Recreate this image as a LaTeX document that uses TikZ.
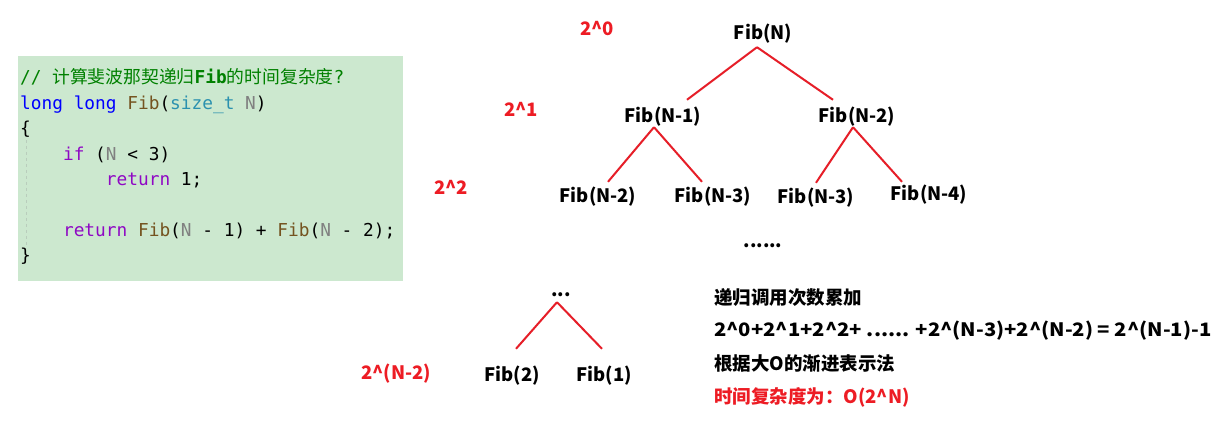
\documentclass[tikz,border=0pt]{standalone}
\usepackage{fontspec}
\usepackage{tikz}
\newfontfamily\yahei{Noto Sans CJK SC}
\newfontfamily\cjk{Noto Sans CJK SC}
\newfontfamily\codefont{DejaVu Sans Mono}
\definecolor{codebg}{RGB}{204,232,207}
\definecolor{cmt}{RGB}{0,128,0}
\definecolor{kw}{RGB}{0,0,255}
\definecolor{fn}{RGB}{116,83,31}
\definecolor{ty}{RGB}{43,145,175}
\definecolor{par}{RGB}{128,128,128}
\definecolor{ctl}{RGB}{143,8,196}
\definecolor{redline}{RGB}{230,30,40}
\definecolor{redtxt}{RGB}{237,28,36}
\definecolor{guide}{RGB}{185,205,188}

\begin{document}
\begin{tikzpicture}[x=1pt, y=-1pt,
  fib/.style = {font=\yahei\bfseries\fontsize{18.5}{18.5}\selectfont, inner sep=0pt, anchor=base, text height=13pt, text depth=4pt},
  lvl/.style = {font=\yahei\bfseries\fontsize{18.5}{18.5}\selectfont, inner sep=0pt, anchor=base, text=redtxt},
  note/.style = {font=\yahei\bfseries\fontsize{18.5}{18.5}\selectfont, inner sep=0pt, anchor=base west},
  code/.style = {font=\codefont\fontsize{17.8}{17.8}\selectfont, inner sep=0pt, anchor=base west},
  edge/.style = {draw=redline, line width=2pt}]
\useasboundingbox[fill=white] (0,0) rectangle (1221,427);

% code box
\fill[codebg] (18,56) rectangle (403,281);
\draw[guide, dashed, line width=0.8pt] (26,140) -- (26,246);
\node[code] (c1) at (20,84) {\color{cmt}// {\cjk 计算斐波那契递归}{\bfseries Fib}{\cjk 的时间复杂度}?};
\node[code] (c2) at (20,110) {{\color{kw}long long} {\color{fn}Fib}({\color{ty}size\_t} {\color{par}N})};
\node[code] (c3) at (20,135) {\{};
\node[code] (c4) at (20,161) {\ \ \ \ {\color{ctl}if} ({\color{par}N} < 3)};
\node[code] (c5) at (20,186) {\ \ \ \ \ \ \ \ {\color{ctl}return} 1;};
\node[code] (c6) at (20,237) {\ \ \ \ {\color{ctl}return} {\color{fn}Fib}({\color{par}N} - 1) + {\color{fn}Fib}({\color{par}N} - 2);};
\node[code] (c7) at (20,262) {\}};

% recursion tree
\node[fib] (root) at (763,40) {Fib(N)};
\node[fib] (n1) at (663,123) {Fib(N-1)};
\node[fib] (n2) at (857,123) {Fib(N-2)};
\node[fib] (n3) at (598,203) {Fib(N-2)};
\node[fib] (n4) at (713,203) {Fib(N-3)};
\node[fib] (n5) at (816,204) {Fib(N-3)};
\node[fib] (n6) at (929,201) {Fib(N-4)};
\node[fib] (more) at (763,248) {......};
\node[fib] (dots) at (561,297) {...};
\node[fib] (f2) at (512,382) {Fib(2)};
\node[fib] (f1) at (604,382) {Fib(1)};

\draw[edge] ([xshift=-6pt,yshift=-3pt]root.south) -- ([xshift=24pt,yshift=10pt]n1.north);
\draw[edge] ([xshift=-6pt,yshift=-3pt]root.south) -- ([xshift=-24pt,yshift=10pt]n2.north);
\draw[edge] ([xshift=-9pt]n1.south) -- ([xshift=10pt,yshift=8pt]n3.north);
\draw[edge] ([xshift=-9pt]n1.south) -- ([xshift=-11pt,yshift=8pt]n4.north);
\draw[edge] ([xshift=-4pt]n2.south) -- ([yshift=8pt]n5.north);
\draw[edge] ([xshift=-4pt]n2.south) -- ([xshift=-27pt,yshift=6pt]n6.north);
\draw[edge] ([xshift=-4pt,yshift=-1pt]dots.south) -- ([xshift=4pt,yshift=20pt]f2.north);
\draw[edge] ([xshift=-4pt,yshift=-1pt]dots.south) -- ([xshift=-2pt,yshift=20pt]f1.north);

% level counts
\node[lvl] (l0) at (597,36) {2\^{}0};
\node[lvl] (l1) at (521,117) {2\^{}1};
\node[lvl] (l2) at (451,195) {2\^{}2};
\node[lvl] (ln) at (396,380) {2\^{}(N-2)};

% summary
\node[note] (s1) at (714,305) {递归调用次数累加};
\node[note, xscale=1.095, transform shape] (s2) at (714,337) {2\^{}0+2\^{}1+2\^{}2+ ...... +2\^{}(N-3)+2\^{}(N-2) = 2\^{}(N-1)-1};
\node[note] (s3) at (714,371) {根据大O的渐进表示法};
\node[note, text=redtxt] (s4) at (714,403) {时间复杂度为：O(2\^{}N)};
\end{tikzpicture}
\end{document}
